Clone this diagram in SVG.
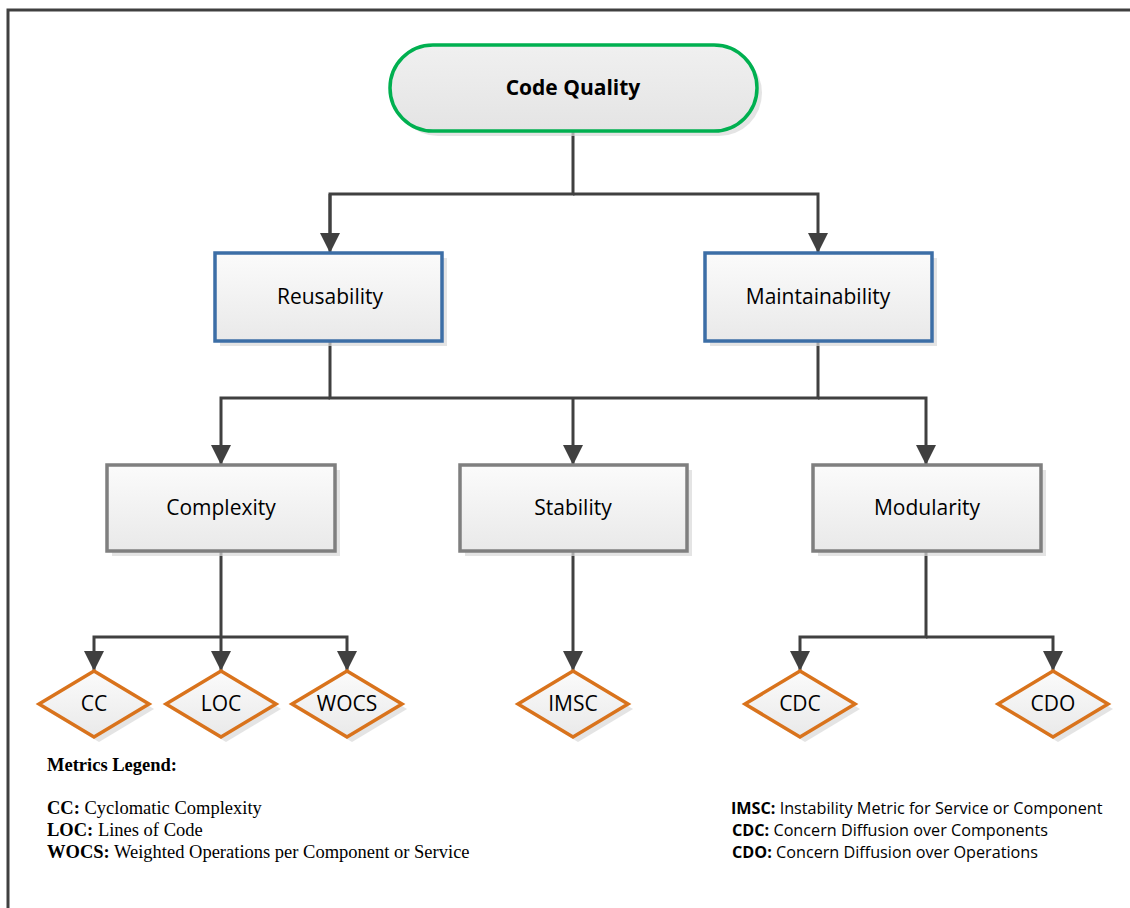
<svg xmlns="http://www.w3.org/2000/svg" width="1130" height="908" viewBox="0 0 1130 908">
<defs>
<linearGradient id="g" x1="0" y1="0" x2="0" y2="1">
<stop offset="0" stop-color="#fbfbfb"/><stop offset="1" stop-color="#e9e9e9"/>
</linearGradient>
<linearGradient id="gq" x1="0" y1="0" x2="0" y2="1">
<stop offset="0" stop-color="#f0f0f0"/><stop offset="1" stop-color="#e4e4e4"/>
</linearGradient>
<marker id="ah" markerUnits="userSpaceOnUse" markerWidth="20" markerHeight="20" refX="20" refY="10" orient="auto">
<path d="M0,0 L20,10 L0,20 Z" fill="#404040"/>
</marker>
</defs>
<style>
.sh{fill:#d8d8d8;opacity:0.7}
.q{fill:url(#gq);stroke:#00B050;stroke-width:3.5}
.b{fill:url(#g);stroke:#3C6EA6;stroke-width:3.5}
.gr{fill:url(#g);stroke:#7F7F7F;stroke-width:3.5}
.d{fill:url(#g);stroke:#D9731C;stroke-width:3.5}
.c{fill:none;stroke:#404040;stroke-width:3}
.a{marker-end:url(#ah)}
.t{font-family:"Open Sans","Liberation Sans",sans-serif;font-size:21px;fill:#000;text-anchor:middle}
.tb{font-family:"Open Sans","Liberation Sans",sans-serif;font-size:21px;font-weight:bold;fill:#000;text-anchor:middle}
.ls{font-family:"Liberation Serif",serif;font-size:18.5px;fill:#000}
.lc{font-family:"Open Sans","Liberation Sans",sans-serif;font-size:16.2px;fill:#000}
</style>
<rect x="0" y="0" width="1130" height="908" fill="#fff"/>
<path d="M8,908 L8,10 L1130,10" fill="none" stroke="#404040" stroke-width="3"/>

<g id="connectors">
<path class="c" d="M573,131 L573,194 L330,194 L330,235"/>
<path class="c a" d="M330,194 L330,253"/>
<path class="c a" d="M573,194 L818,194 L818,253"/>
<path class="c" d="M330,341 L330,398 L818,398 L818,341"/>
<path class="c a" d="M330,398 L221,398 L221,465"/>
<path class="c a" d="M573,398 L573,465"/>
<path class="c a" d="M818,398 L926,398 L926,465"/>
<path class="c a" d="M221,551 L221,671"/>
<path class="c a" d="M221,637 L94,637 L94,671"/>
<path class="c a" d="M221,637 L347,637 L347,671"/>
<path class="c a" d="M573,551 L573,671"/>
<path class="c a" d="M926,551 L926,637 L800,637 L800,671"/>
<path class="c a" d="M926,637 L1053,637 L1053,671"/>
</g>

<g id="code-quality">
<rect class="sh" x="395" y="50" width="367" height="86" rx="43"/>
<rect class="q" x="390" y="45" width="367" height="86" rx="43"/>
<text class="tb" x="573" y="95">Code Quality</text>
</g>
<g id="reusability">
<rect class="sh" x="220" y="258" width="227" height="88"/>
<rect class="b" x="215" y="253" width="227" height="88"/>
<text class="t" x="330" y="304">Reusability</text>
</g>
<g id="maintainability">
<rect class="sh" x="710" y="258" width="227" height="88"/>
<rect class="b" x="705" y="253" width="227" height="88"/>
<text class="t" x="818" y="304">Maintainability</text>
</g>
<g id="complexity">
<rect class="sh" x="112" y="470" width="228" height="86"/>
<rect class="gr" x="107" y="465" width="228" height="86"/>
<text class="t" x="221" y="515">Complexity</text>
</g>
<g id="stability">
<rect class="sh" x="465" y="470" width="227" height="86"/>
<rect class="gr" x="460" y="465" width="227" height="86"/>
<text class="t" x="573" y="515">Stability</text>
</g>
<g id="modularity">
<rect class="sh" x="818" y="470" width="228" height="86"/>
<rect class="gr" x="813" y="465" width="228" height="86"/>
<text class="t" x="927" y="515">Modularity</text>
</g>

<g id="cc">
<path class="sh" d="M99,676 L154,709 L99,742 L44,709 Z"/>
<path class="d" d="M94,671 L149,704 L94,737 L39,704 Z"/>
<text class="t" x="94" y="711">CC</text>
</g>
<g id="loc">
<path class="sh" d="M226,676 L281,709 L226,742 L171,709 Z"/>
<path class="d" d="M221,671 L276,704 L221,737 L166,704 Z"/>
<text class="t" x="221" y="711">LOC</text>
</g>
<g id="wocs">
<path class="sh" d="M352,676 L407,709 L352,742 L297,709 Z"/>
<path class="d" d="M347,671 L402,704 L347,737 L292,704 Z"/>
<text class="t" x="347" y="711">WOCS</text>
</g>
<g id="imsc">
<path class="sh" d="M578,676 L633,709 L578,742 L523,709 Z"/>
<path class="d" d="M573,671 L628,704 L573,737 L518,704 Z"/>
<text class="t" x="573" y="711">IMSC</text>
</g>
<g id="cdc">
<path class="sh" d="M805,676 L860,709 L805,742 L750,709 Z"/>
<path class="d" d="M800,671 L855,704 L800,737 L745,704 Z"/>
<text class="t" x="800" y="711">CDC</text>
</g>
<g id="cdo">
<path class="sh" d="M1058,676 L1113,709 L1058,742 L1003,709 Z"/>
<path class="d" d="M1053,671 L1108,704 L1053,737 L998,704 Z"/>
<text class="t" x="1053" y="711">CDO</text>
</g>

<g id="legend">
<text class="ls" x="47" y="771" font-weight="bold">Metrics Legend:</text>
<text class="ls" x="47" y="814"><tspan font-weight="bold">CC:</tspan> Cyclomatic Complexity</text>
<text class="ls" x="47" y="836"><tspan font-weight="bold">LOC:</tspan> Lines of Code</text>
<text class="ls" x="47" y="858"><tspan font-weight="bold">WOCS:</tspan> Weighted Operations per Component or Service</text>
<text class="lc" x="731" y="814"><tspan font-weight="bold">IMSC:</tspan> Instability Metric for Service or Component</text>
<text class="lc" x="732" y="836"><tspan font-weight="bold">CDC:</tspan> Concern Diffusion over Components</text>
<text class="lc" x="732" y="858"><tspan font-weight="bold">CDO:</tspan> Concern Diffusion over Operations</text>
</g>
</svg>
